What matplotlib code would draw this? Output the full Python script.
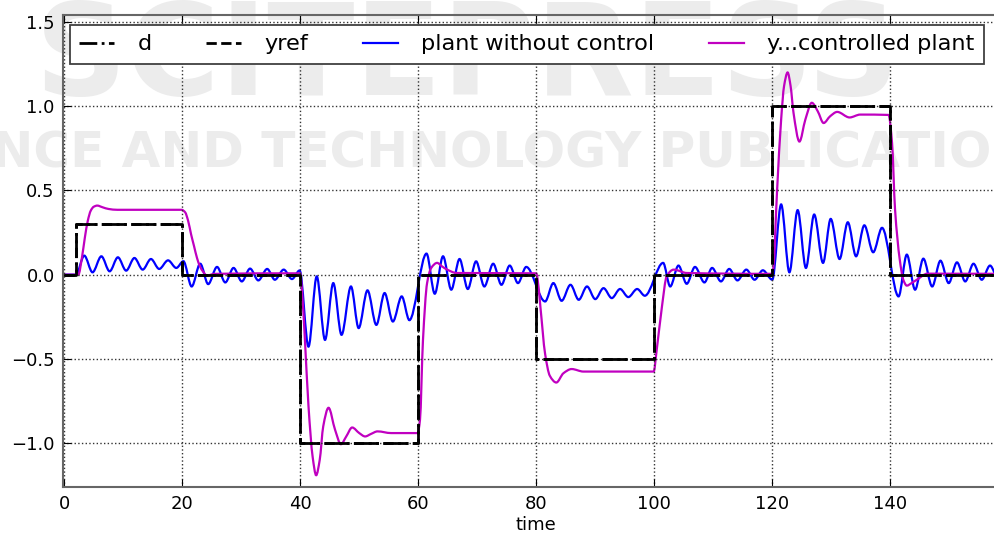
import matplotlib.pyplot as plt
import numpy as np
from matplotlib.path import Path
from matplotlib.patches import PathPatch

# step reference / disturbance
step_t = [0, 2, 20, 40, 60, 80, 100, 120, 140, 160]
yref = [0, 0.3, 0, -1, 0, -0.5, 0, 1, 0, 0]
d = [0, 0.3, 0, -1, 0, -0.5, 0, 1, 0, 0]

# plant without control (extrema)
plant_t = [0, 2.0, 3.4, 4.8, 6.3, 7.7, 9.1, 10.5, 11.9, 13.3, 14.7, 16.1, 17.6, 19.0, 20.2,
           21.6, 23.05, 24.4, 25.9, 27.3, 28.7, 30.1, 31.5, 32.9, 34.4, 35.7, 37.2, 38.6, 39.9,
           41.4, 42.8, 44.2, 45.6, 47.0, 48.6, 49.9, 51.4, 52.9, 54.3, 55.7, 57.2, 58.5,
           61.4, 62.8, 64.2, 65.6, 67.0, 68.4, 69.8, 71.2, 72.7, 74.1, 75.5, 76.9, 78.3,
           81.5, 82.9, 84.3, 85.8, 87.2, 88.6, 90.0, 91.4, 92.8, 94.2, 95.6, 97.1, 98.4,
           101.5, 102.7, 104.1, 105.5, 106.9, 108.5, 109.8, 111.3, 112.7, 114.1, 115.6, 117.0, 118.4, 120.0,
           121.5, 122.9, 124.3, 125.7, 127.1, 128.6, 129.9, 131.4, 132.8, 134.2, 135.6, 137.1, 138.6,
           141.4, 142.8, 144.2, 145.6, 147.1, 148.5, 149.9, 151.3, 152.7, 154.1, 155.5, 156.9, 158.3, 159.7]
plant = [0, 0, 0.113, 0.014, 0.109, 0.02, 0.103, 0.024, 0.099, 0.03, 0.093, 0.034, 0.085, 0.04, 0.08,
         -0.07, 0.065, -0.056, 0.046, -0.046, 0.04, -0.04, 0.036, -0.034, 0.034, -0.03, 0.03, -0.026, 0.025,
         -0.427, -0.01, -0.387, -0.05, -0.357, -0.07, -0.317, -0.093, -0.298, -0.109, -0.278, -0.129, -0.27,
         0.125, -0.113, 0.109, -0.089, 0.093, -0.085, 0.079, -0.07, 0.065, -0.06, 0.054, -0.05, 0.046,
         -0.159, -0.05, -0.155, -0.06, -0.149, -0.07, -0.145, -0.08, -0.139, -0.085, -0.133, -0.085, -0.125,
         0.07, -0.07, 0.054, -0.054, 0.046, -0.046, 0.04, -0.04, 0.034, -0.034, 0.03, -0.03, 0.026, -0.03,
         0.417, 0.014, 0.383, 0.04, 0.357, 0.07, 0.331, 0.093, 0.311, 0.109, 0.293, 0.133, 0.278,
         -0.129, 0.119, -0.089, 0.095, -0.07, 0.083, -0.05, 0.073, -0.04, 0.065, -0.03, 0.054, -0.025, 0.05]

# controlled plant output
ctrl_t = [0, 2.4, 3.0, 3.5, 4.0, 4.5, 5.0, 5.6, 6.5, 7.5, 9.0, 19.9, 20.5, 21.0, 21.5, 22.0, 22.5, 23.0, 23.5, 24.2, 25.5, 40.0,
          40.3, 40.8, 41.4, 42.1, 42.7, 43.3, 43.9, 44.8, 45.9, 46.9, 47.8, 48.8, 50.0, 51.0, 52.0, 53.1, 55.4, 59.9,
          60.3, 60.8, 61.5, 62.2, 63.2, 64.0, 64.9, 66.5, 80.0,
          80.2, 80.7, 81.5, 82.3, 83.4, 84.6, 86.0, 88.0, 99.9,
          100.4, 101.3, 102.1, 103.3, 105.5, 120.0,
          120.2, 120.8, 121.5, 122.0, 122.6, 123.1, 123.6, 124.6, 125.6, 126.7, 127.7, 128.7, 129.8, 131.0, 133.1, 134.9, 139.7,
          140.3, 140.8, 141.6, 142.2, 142.8, 143.6, 144.5, 146.3, 160.0]
ctrl = [0, 0, 0.1, 0.22, 0.32, 0.38, 0.403, 0.41, 0.4, 0.39, 0.385, 0.385, 0.37, 0.32, 0.24, 0.17, 0.1, 0.05, 0.02, -0.005, 0.005, 0.008,
        -0.1, -0.39, -0.78, -1.08, -1.19, -1.1, -0.9, -0.79, -0.92, -1.006, -0.96, -0.907, -0.94, -0.96, -0.945, -0.93, -0.94, -0.94,
        -0.86, -0.39, -0.05, 0.04, 0.07, 0.05, 0.03, 0.01, 0.008,
        -0.02, -0.19, -0.47, -0.6, -0.64, -0.585, -0.56, -0.575, -0.575,
        -0.45, -0.19, -0.01, 0.03, 0.01, 0.005,
        0.05, 0.49, 0.92, 1.12, 1.2, 1.12, 0.96, 0.79, 0.92, 1.02, 0.97, 0.90, 0.94, 0.966, 0.933, 0.95, 0.948,
        0.78, 0.39, 0.09, -0.03, -0.065, -0.05, -0.03, 0.006, 0.005]


def smooth_path(t, v):
    # bezier path through the points, monotone tangents (flat at extrema)
    t = np.asarray(t, float)
    v = np.asarray(v, float)
    h = np.diff(t)
    delta = np.diff(v) / h
    m = np.zeros_like(v)
    for i in range(1, len(v) - 1):
        if delta[i - 1] * delta[i] > 0:
            w1 = 2 * h[i] + h[i - 1]
            w2 = h[i] + 2 * h[i - 1]
            m[i] = (w1 + w2) / (w1 / delta[i - 1] + w2 / delta[i])
    verts = [(t[0], v[0])]
    codes = [Path.MOVETO]
    for i in range(len(t) - 1):
        verts += [(t[i] + h[i] / 3, v[i] + m[i] * h[i] / 3),
                  (t[i + 1] - h[i] / 3, v[i + 1] - m[i + 1] * h[i] / 3),
                  (t[i + 1], v[i + 1])]
        codes += [Path.CURVE4] * 3
    return Path(verts, codes)


fig = plt.figure(figsize=(9.94, 5.38), dpi=100)

# publisher watermark behind the plot
fig.text(0.47, 0.89, 'SCITEPRESS', fontsize=92, fontweight='bold', color='#ececec',
         ha='center', va='center', zorder=-5)
fig.text(0.47, 0.715, 'SCIENCE AND TECHNOLOGY PUBLICATIONS', fontsize=36, fontweight='bold',
         color='#ececec', ha='center', va='center', zorder=-5)

ax = fig.add_axes([0.0634, 0.0948, 0.951, 0.877])
ax.set_facecolor('none')

ax.plot(step_t, d, color='k', ls='-.', lw=2, drawstyle='steps-post', label='d')
ax.plot(step_t, yref, color='k', ls='--', lw=2, drawstyle='steps-post', label='yref')
ax.add_patch(PathPatch(smooth_path(plant_t, plant), facecolor='none', edgecolor='b', lw=1.6))
ax.add_patch(PathPatch(smooth_path(ctrl_t, ctrl), facecolor='none', edgecolor='#c000c0', lw=1.6))
ax.plot([], [], color='b', lw=1.6, label='plant without control')
ax.plot([], [], color='#c000c0', lw=1.6, label='y...controlled plant')

ax.set_xlim(-0.2, 160)
ax.set_ylim(-1.26, 1.54)
ax.set_xticks(np.arange(0, 141, 20))
ax.set_yticks([-1.0, -0.5, 0.0, 0.5, 1.0, 1.5])
ax.grid(True, ls=':', color='0.2', lw=1)
ax.tick_params(direction='in', top=True, right=True, length=6, labelsize=13, pad=6)
for s in ax.spines.values():
    s.set_color('0.4')
    s.set_linewidth(1.5)
ax.set_xlabel('time', fontsize=13, labelpad=2)

leg = ax.legend(loc='upper left', bbox_to_anchor=(0.0074, 0.979), borderaxespad=0, ncol=4,
                fontsize=16.1, handlelength=1.55, handletextpad=1.05, columnspacing=2.45,
                borderpad=0.42, fancybox=False, framealpha=1)
leg.get_frame().set_edgecolor('0.25')
leg.get_frame().set_linewidth(1.3)

fig.savefig('out.png', dpi=100)
